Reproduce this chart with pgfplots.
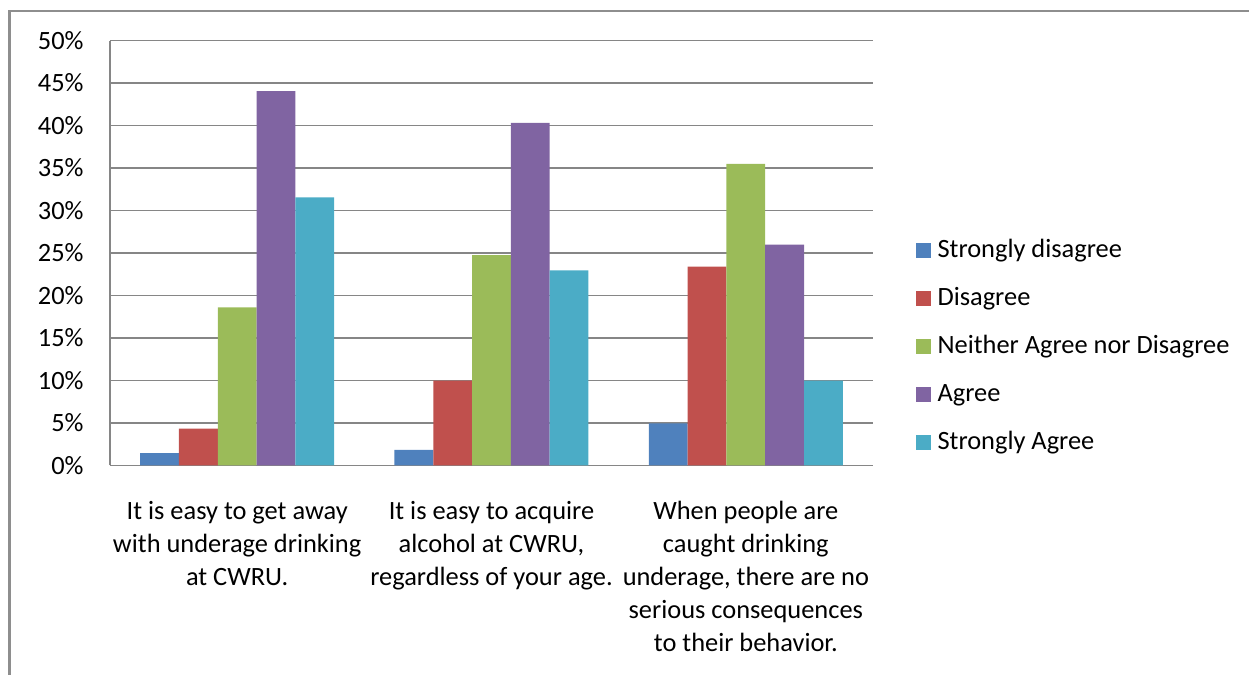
\documentclass[border=0pt]{standalone}
\usepackage{pgfplots}
\pgfplotsset{compat=1.18}
\usepackage{fontspec}
\setmainfont{Carlito}
\definecolor{c1}{HTML}{4F81BD}
\definecolor{c2}{HTML}{C0504D}
\definecolor{c3}{HTML}{9BBB59}
\definecolor{c4}{HTML}{8064A2}
\definecolor{c5}{HTML}{4BACC6}
\definecolor{gridgray}{HTML}{868686}
\definecolor{bordergray}{HTML}{8E8E8E}
\begin{document}
\fontsize{13.2}{16.5}\selectfont
\begin{tikzpicture}
\useasboundingbox (0,0) rectangle (624.5pt,337.5pt);
\draw[color=bordergray, line width=1.3pt] (4.85pt,-2pt) -- (4.85pt,332pt) -- (630pt,332pt);
\begin{axis}[
  at={(55pt,104.75pt)}, anchor=south west,
  scale only axis, width=381.5pt, height=212.5pt,
  ybar=0pt, bar width=19.4pt,
  xmin=-0.5, xmax=2.5, ymin=0, ymax=50,
  xtick={0,1,2},
  xticklabels={{It is easy to get away\\with underage drinking\\at CWRU.},
               {It is easy to acquire\\alcohol at CWRU,\\regardless of your age.},
               {When people are\\caught drinking\\underage, there are no\\serious consequences\\to their behavior.}},
  major tick length=0pt,
  ytick={0,5,...,50},
  yticklabel={\pgfmathprintnumber{\tick}\%},
  /pgf/number format/assume math mode=true,
  ymajorgrids, grid style={draw=gridgray, line width=0.6pt},
  axis lines*=left,
  axis line style={-, draw=gridgray, line width=0.6pt},
  xticklabel style={align=center, anchor=north, inner sep=0pt, yshift=-17.5pt, font=\fontsize{13.2}{16.5}\selectfont},
  yticklabel style={anchor=east, inner sep=0pt, xshift=-13pt, font=\fontsize{13.2}{16.5}\selectfont},
  legend style={at={(axis description cs:1.0563,0.5313)}, anchor=north west,
    draw=none, fill=none, inner sep=0pt, outer sep=0pt,
    row sep=12pt, column sep=3.3pt, cells={anchor=base west},
    nodes={inner sep=0pt, text height=9pt, text depth=3pt, font=\fontsize{13.2}{16.5}\selectfont}},
  legend image code/.code={\fill[#1] (0pt,0pt) rectangle (7.5pt,7.5pt);},
]
\addplot[fill=c1, draw=none] coordinates {(0,1.45) (1,1.85) (2,4.95)};
\addplot[fill=c2, draw=none] coordinates {(0,4.35) (1,10.0) (2,23.4)};
\addplot[fill=c3, draw=none] coordinates {(0,18.6) (1,24.75) (2,35.5)};
\addplot[fill=c4, draw=none] coordinates {(0,44.05) (1,40.3) (2,26.0)};
\addplot[fill=c5, draw=none] coordinates {(0,31.55) (1,22.95) (2,10.0)};
\legend{Strongly disagree, Disagree, Neither Agree nor Disagree, Agree, Strongly Agree}
\end{axis}
\end{tikzpicture}
\end{document}
